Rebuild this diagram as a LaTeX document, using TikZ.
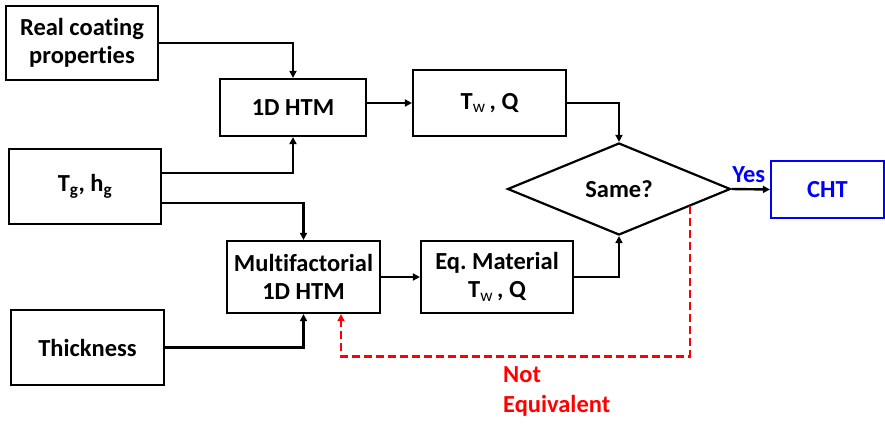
\documentclass[tikz,border=0pt]{standalone}
\usepackage{fontspec}
\setmainfont{Carlito}[Ligatures=NoCommon]
\usetikzlibrary{shapes.geometric,arrows.meta,calc}
\frenchspacing
\tikzset{
  txt/.style={font=\fontsize{24.5}{28}\selectfont\bfseries},
  box/.style={draw, line width=2.2pt, inner sep=0pt, align=center, txt},
  conn/.style={line width=2.4pt, -{Triangle[length=7pt,width=7pt]}},
  redconn/.style={line width=2.4pt, red, dash pattern=on 8pt off 4pt, -{Triangle[length=7pt,width=7pt]}},
}
\newcommand{\sbw}{\textsubscript{\mdseries w}}
\begin{document}
\begin{tikzpicture}[x=1pt,y=-1pt]
\useasboundingbox (0,0) rectangle (885,423);
\node[box, minimum width=152pt, minimum height=74pt] (rc) at (82,43) {Real coating\\properties};
\node[box, minimum width=146pt, minimum height=57pt] (htm) at (293,107.5) {1D HTM};
\node[box, minimum width=153pt, minimum height=66pt] (tw) at (489.5,103) {T\sbw\,, Q};
\node[box, minimum width=152pt, minimum height=75pt] (tg) at (85,186.5) {T\textsubscript{g}, h\textsubscript{g}};
\node[box, minimum width=153pt, minimum height=72pt] (mf) at (303.5,277) {Multifactorial\\1D HTM};
\node[box, minimum width=153pt, minimum height=75pt] (th) at (87.5,347.5) {Thickness};
\node[box, minimum width=152pt, minimum height=72pt] (eq) at (497,277) {Eq.\ Material\\T\sbw\,, Q};
\node[box, shape=diamond, minimum width=223pt, minimum height=92pt] (dia) at (619,189) {Same?};
\node[box, draw=blue, text=blue, minimum width=113pt, minimum height=57pt] (cht) at (827.5,189.5) {CHT};

\draw[conn] (rc.east) -| (htm.north);
\draw[conn] ($(tg.east)+(0,-13.5)$) -| (htm.south);
\draw[conn] ($(tg.east)+(0,16.5)$) -| (mf.north);
\draw[conn] (th.east) -| (mf.south);
\draw[conn] (htm.east |- tw.west) -- (tw.west);
\draw[conn] (tw.east) -| (dia.north);
\draw[conn] (mf.east) -- (eq.west);
\draw[conn] (eq.east) -| (dia.south);
\draw[conn] (dia.east) -- (cht.west) node[midway, above=2pt, xshift=-2pt, text=blue, txt] (yes) {Yes};

\coordinate (rs) at ($(dia.east)!0.37!(dia.south)$);
\coordinate (rb) at ($(rs)+(0,150)$);
\coordinate (re) at ($(mf.south)+(37.5,0)$);
\draw[redconn] (rs) -- (rb) -| (re);
\node[anchor=north west, align=left, text=red, inner sep=0pt, font=\fontsize{24.5}{30}\selectfont\bfseries] (ne) at (503,366) {Not\\Equivalent};
\end{tikzpicture}
\end{document}
